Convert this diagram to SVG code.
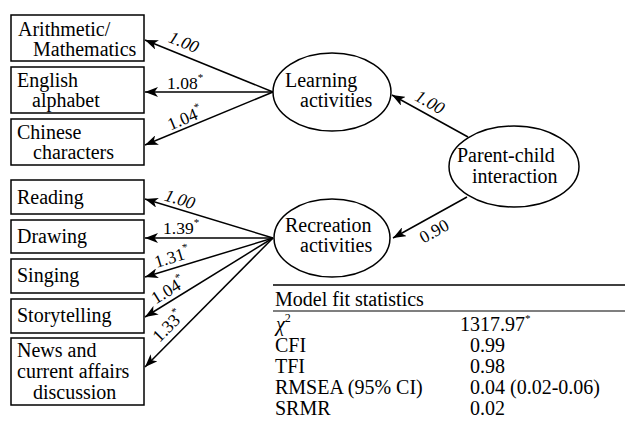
<svg xmlns="http://www.w3.org/2000/svg" width="625" height="423" viewBox="0 0 625 423" font-family="'Liberation Serif', 'DejaVu Serif', serif">
<style>
text{font-family:'Liberation Serif','DejaVu Serif',serif;fill:#000}
.t{font-size:20px}
.lb{font-size:17.5px}
.it{font-style:italic}
.sup{font-size:11px}
rect,ellipse{fill:#fff;stroke:#000;stroke-width:1.5}
.edge{stroke:#000;stroke-width:1.5;fill:none;marker-end:url(#ah)}
.rule{stroke:#000}
</style>
<defs>
<marker id="ah" markerUnits="userSpaceOnUse" markerWidth="14" markerHeight="10" refX="13" refY="5" orient="auto">
<path d="M0,0 L13,5 L0,10 L3.5,5 z" fill="#000"/>
</marker>
</defs>
<g id="connectors">
<line class="edge" x1="273" y1="92" x2="145" y2="40"/>
<line class="edge" x1="273" y1="92" x2="145" y2="92"/>
<line class="edge" x1="273" y1="92" x2="145" y2="145"/>
<line class="edge" x1="273" y1="238" x2="145" y2="199"/>
<line class="edge" x1="273" y1="238" x2="145" y2="238"/>
<line class="edge" x1="273" y1="238" x2="145" y2="277"/>
<line class="edge" x1="273" y1="238" x2="145" y2="317"/>
<line class="edge" x1="273" y1="238" x2="145" y2="367"/>
<line class="edge" x1="468" y1="137" x2="392" y2="95"/>
<line class="edge" x1="467" y1="197" x2="393" y2="238"/>
<g class="lb">
<text class="lb it" transform="translate(184,42) rotate(22)" x="0" y="6" text-anchor="middle">1.00</text>
<text class="lb" x="167" y="89">1.08<tspan class="sup" dy="-8">*</tspan></text>
<text class="lb" transform="translate(185,118) rotate(-22.5)" x="0" y="6" text-anchor="middle">1.04<tspan class="sup" dy="-8">*</tspan></text>
<text class="lb it" transform="translate(180,199) rotate(17)" x="0" y="6" text-anchor="middle">1.00</text>
<text class="lb" x="163" y="234">1.39<tspan class="sup" dy="-8">*</tspan></text>
<text class="lb" transform="translate(172,257) rotate(-17)" x="0" y="6" text-anchor="middle">1.31<tspan class="sup" dy="-8">*</tspan></text>
<text class="lb" transform="translate(168,290) rotate(-31.7)" x="0" y="6" text-anchor="middle">1.04<tspan class="sup" dy="-8">*</tspan></text>
<text class="lb" transform="translate(168,326) rotate(-45)" x="0" y="6" text-anchor="middle">1.33<tspan class="sup" dy="-8">*</tspan></text>
<text class="lb it" transform="translate(430,102) rotate(29)" x="0" y="6" text-anchor="middle">1.00</text>
<text class="lb" transform="translate(434,231) rotate(-29)" x="0" y="6" text-anchor="middle">0.90</text>
</g>
</g>
<g id="arith"><rect x="11" y="15" width="133" height="46"/><text class="t" x="18" y="36">Arithmetic/</text><text class="t" x="33" y="56">Mathematics</text></g>
<g id="english"><rect x="11" y="67" width="133" height="46"/><text class="t" x="17" y="87">English</text><text class="t" x="32" y="107">alphabet</text></g>
<g id="chinese"><rect x="11" y="119" width="133" height="46"/><text class="t" x="17" y="139">Chinese</text><text class="t" x="33" y="159">characters</text></g>
<g id="reading"><rect x="11" y="180" width="133" height="34"/><text class="t" x="17" y="204">Reading</text></g>
<g id="drawing"><rect x="11" y="220" width="133" height="33"/><text class="t" x="17" y="243">Drawing</text></g>
<g id="singing"><rect x="11" y="259" width="133" height="34"/><text class="t" x="17" y="282">Singing</text></g>
<g id="storytelling"><rect x="11" y="299" width="133" height="34"/><text class="t" x="17" y="322">Storytelling</text></g>
<g id="news"><rect x="11" y="338" width="133" height="67"/><text class="t" x="17" y="357">News and</text><text class="t" x="17" y="378">current affairs</text><text class="t" x="33" y="399">discussion</text></g>
<g id="learning"><ellipse cx="332" cy="92" rx="59" ry="39"/><text class="t" x="285" y="87">Learning</text><text class="t" x="300" y="107">activities</text></g>
<g id="recreation"><ellipse cx="332" cy="238" rx="58" ry="39"/><text class="t" x="285" y="232">Recreation</text><text class="t" x="300" y="252">activities</text></g>
<g id="parent"><ellipse cx="514" cy="166.5" rx="65" ry="40.5"/><text class="t" x="457" y="162">Parent-child</text><text class="t" x="472" y="183">interaction</text></g>
<g id="fit-table">
<line class="rule" x1="273" y1="285" x2="625" y2="285" stroke-width="1.6"/>
<line class="rule" x1="273" y1="311" x2="625" y2="311" stroke-width="1.2"/>
<text class="t" x="275" y="306">Model  fit statistics</text>
<text class="t" x="276" y="331"><tspan class="it">χ</tspan><tspan font-size="12" dy="-9">2</tspan></text>
<text class="t" x="460" y="331">1317.97<tspan class="sup" dy="-9">*</tspan></text>
<text class="t" x="275" y="352">CFI</text><text class="t" x="470" y="352">0.99</text>
<text class="t" x="275" y="373">TFI</text><text class="t" x="470" y="373">0.98</text>
<text class="t" x="275" y="394">RMSEA (95% CI)</text><text class="t" x="470" y="394">0.04 (0.02-0.06)</text>
<text class="t" x="275" y="415">SRMR</text><text class="t" x="470" y="415">0.02</text>
</g>
</svg>
